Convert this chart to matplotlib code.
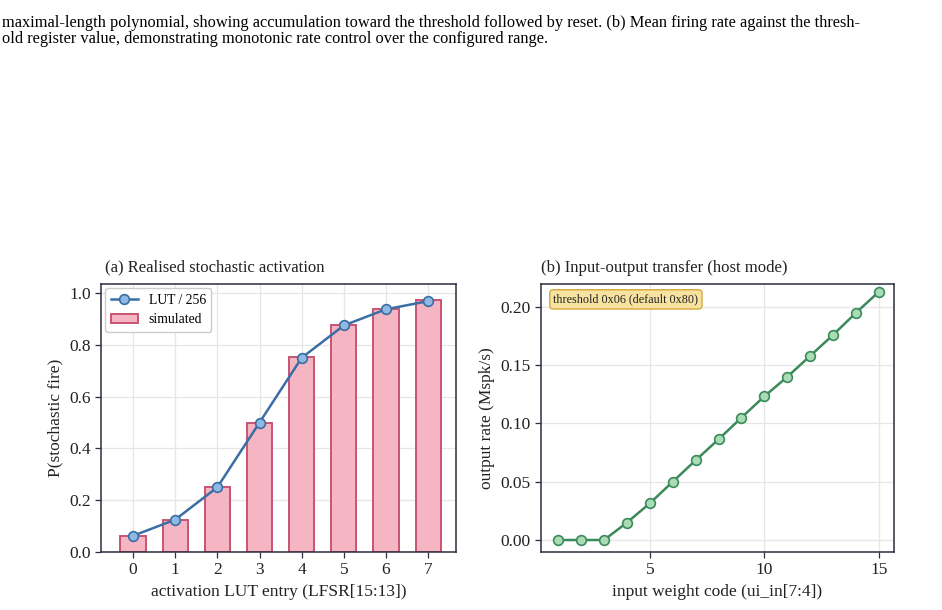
import matplotlib
matplotlib.use("Agg")
import matplotlib.pyplot as plt
import numpy as np

plt.rcParams['font.family'] = ['Liberation Serif', 'DejaVu Serif']
plt.rcParams['mathtext.fontset'] = 'stix'

# (a) activation LUT
lut_entry = [0, 1, 2, 3, 4, 5, 6, 7]
lut_prob = [16/256, 32/256, 64/256, 128/256, 192/256, 224/256, 240/256, 248/256]
sim_prob = [0.061, 0.123, 0.251, 0.499, 0.752, 0.878, 0.939, 0.972]

# (b) input-output transfer
weight_code = [1, 2, 3, 4, 5, 6, 7, 8, 9, 10, 11, 12, 13, 14, 15]
out_rate = [0.0, 0.0, 0.0, 0.0149, 0.0315, 0.050, 0.0684, 0.0864, 0.105,
            0.1233, 0.140, 0.158, 0.176, 0.195, 0.213]

caption = ("maximal-length polynomial, showing accumulation toward the threshold followed by reset. (b) Mean firing rate against the thresh-\n"
           "old register value, demonstrating monotonic rate control over the configured range.")

spine_col = '#2e2e3e'
txt_col = '#222222'

fig = plt.figure(figsize=(9.42, 6.10), dpi=100)
fig.text(0.002, 1 - 15/610, caption, ha='left', va='top', fontsize=11.8,
         color='black', linespacing=0.98)

ax1 = fig.add_axes([101/942, 1-552/610, 355/942, 268/610])
ax2 = fig.add_axes([541/942, 1-552/610, 353/942, 268/610])

for ax in (ax1, ax2):
    ax.grid(True, color='#e6e6e6', linewidth=0.9)
    ax.set_axisbelow(True)
    for s in ax.spines.values():
        s.set_color(spine_col)
        s.set_linewidth(1.1)
    ax.tick_params(colors=spine_col, labelcolor=txt_col, labelsize=12.5,
                   length=4, width=0.9)

ax1.bar(lut_entry, sim_prob, width=0.6, color='#f5b5c3', edgecolor='#c85474',
        linewidth=1.4, label='simulated', zorder=2)
ax1.plot(lut_entry, lut_prob, '-o', color='#3a6ea5', linewidth=1.8,
         markersize=7, markerfacecolor='#8fb8e3', markeredgecolor='#3a6ea5',
         markeredgewidth=1.2, label='LUT / 256', zorder=3)
ax1.set_xlim(-0.76, 7.66)
ax1.set_ylim(0, 1.035)
ax1.set_xticks(lut_entry)
ax1.set_yticks([0.0, 0.2, 0.4, 0.6, 0.8, 1.0])
ax1.set_xlabel('activation LUT entry (LFSR[15:13])', fontsize=12.5, color=txt_col)
ax1.set_ylabel('P(stochastic fire)', fontsize=12.5, color=txt_col)
ax1.set_title('(a) Realised stochastic activation', fontsize=12, loc='left',
              color=txt_col, pad=9, x=0.012)
ax1.legend(loc='upper left', fontsize=9.8, frameon=True, edgecolor='#cccccc',
           fancybox=True, framealpha=1.0, borderaxespad=0.3)

ax2.plot(weight_code, out_rate, '-o', color='#3a8a5a', linewidth=1.8,
         markersize=7, markerfacecolor='#a9dcb4', markeredgecolor='#3a8a5a',
         markeredgewidth=1.2, zorder=3)
ax2.set_xlim(0.25, 15.66)
ax2.set_ylim(-0.0103, 0.2197)
ax2.set_xticks([5, 10, 15])
ax2.set_yticks([0.0, 0.05, 0.10, 0.15, 0.20])
ax2.set_yticklabels(['0.00', '0.05', '0.10', '0.15', '0.20'])
ax2.set_xlabel('input weight code (ui_in[7:4])', fontsize=12.5, color=txt_col)
ax2.set_ylabel('output rate (Mspk/s)', fontsize=12.5, color=txt_col)
ax2.set_title('(b) Input-output transfer (host mode)', fontsize=12, loc='left',
              color=txt_col, pad=9)
ax2.text(0.035, 0.965, 'threshold 0x06 (default 0x80)', transform=ax2.transAxes,
         ha='left', va='top', fontsize=8.7, color=txt_col,
         bbox=dict(boxstyle='round,pad=0.3', facecolor='#f8e2a0',
                   edgecolor='#d4a838', linewidth=1.0))

fig.savefig('out.png', dpi=100)
